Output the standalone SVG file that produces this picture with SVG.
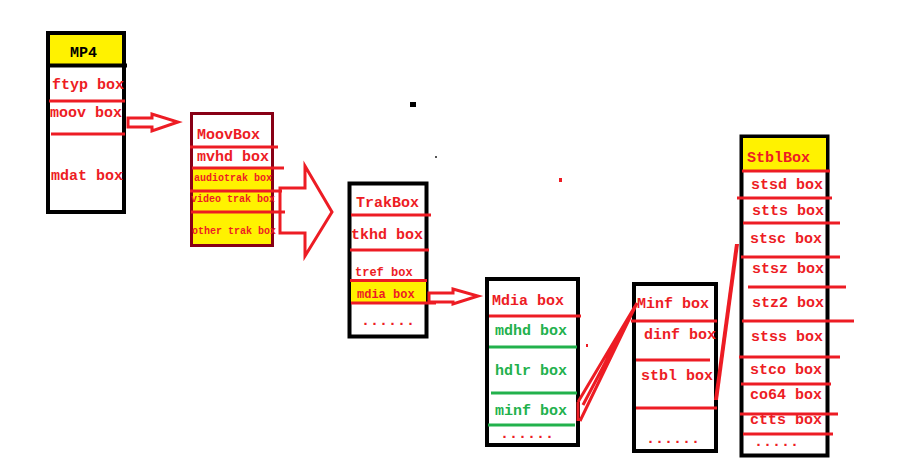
<svg xmlns="http://www.w3.org/2000/svg" width="919" height="468" viewBox="0 0 919 468">
<style>
.t{font-family:"Liberation Mono","DejaVu Sans Mono",monospace;font-weight:bold;font-size:15px;fill:#ED1C24}
.s{font-size:10px}
.m{font-size:12px}
.g{fill:#22B14C}
.k{fill:#000}
.box{fill:#fff;stroke:#000;stroke-width:4}
.r{stroke:#ED1C24;stroke-width:3;fill:none}
.gl{stroke:#22B14C;stroke-width:3;fill:none}
.arr{fill:#fff;stroke:#ED1C24;stroke-width:3;stroke-linejoin:miter}
</style>
<rect width="919" height="468" fill="#fff"/>
<g id="mp4">
<rect class="box" x="48" y="33" width="76" height="179"/>
<rect x="50" y="35" width="72" height="29" fill="#FFF200"/>
<line x1="46" y1="65.5" x2="127" y2="65.5" stroke="#000" stroke-width="4"/>
<text class="t k" x="70" y="57" font-size="14">MP4</text>
<text class="t" x="52" y="89">ftyp box</text>
<line class="r" x1="49" y1="101" x2="125" y2="101"/>
<text class="t" x="50" y="117">moov box</text>
<line class="r" x1="51" y1="134" x2="125" y2="134"/>
<text class="t" x="51" y="180">mdat box</text>
</g>
<g id="moovbox">
<rect x="191.5" y="113.5" width="81" height="132" fill="#fff" stroke="#880015" stroke-width="3"/>
<rect x="193" y="169" width="78" height="75" fill="#FFF200"/>
<text class="t" x="197" y="139">MoovBox</text>
<line class="r" x1="190" y1="147" x2="278" y2="147"/>
<text class="t" x="197" y="161">mvhd box</text>
<line class="r" x1="192" y1="168" x2="284" y2="168"/>
<text class="t s" x="194" y="181">audiotrak box</text>
<line class="r" x1="190" y1="191" x2="282" y2="191"/>
<text class="t s" x="191" y="202">video trak box</text>
<line class="r" x1="191" y1="212" x2="285" y2="212"/>
<text class="t s" x="192" y="234">other trak box</text>
</g>
<g id="trakbox">
<rect class="box" x="349.5" y="183.5" width="77" height="153" stroke-width="3"/>
<rect x="351" y="282" width="75" height="20" fill="#FFF200"/>
<text class="t" x="356" y="207">TrakBox</text>
<line class="r" x1="351" y1="215" x2="431" y2="215"/>
<text class="t" x="351" y="239">tkhd box</text>
<line class="r" x1="350" y1="250" x2="429" y2="250"/>
<text class="t m" x="355" y="276">tref box</text>
<line class="r" x1="350" y1="280.5" x2="427" y2="280.5"/>
<text class="t m" x="357" y="298">mdia box</text>
<line class="r" x1="351" y1="303" x2="436" y2="303"/>
<text class="t" x="361" y="325">......</text>
</g>
<g id="mdiabox">
<rect class="box" x="487" y="279" width="91" height="166" stroke-width="3"/>
<text class="t" x="492" y="305">Mdia box</text>
<line class="r" x1="489" y1="316" x2="581" y2="316"/>
<text class="t g" x="495" y="335">mdhd box</text>
<line class="gl" x1="489" y1="347" x2="577" y2="347"/>
<text class="t g" x="495" y="375">hdlr box</text>
<line class="gl" x1="491" y1="393" x2="577" y2="393"/>
<text class="t g" x="495" y="415">minf box</text>
<line class="gl" x1="488" y1="425" x2="575" y2="425"/>
<text class="t" x="500" y="438">......</text>
</g>
<g id="minfbox">
<rect class="box" x="634" y="284" width="82" height="167" stroke-width="3"/>
<text class="t" x="637" y="308">Minf box</text>
<line class="r" x1="631" y1="321" x2="717" y2="321"/>
<text class="t" x="644" y="339">dinf box</text>
<line class="r" x1="636" y1="360" x2="710" y2="360"/>
<text class="t" x="641" y="380">stbl box</text>
<line class="r" x1="636" y1="408" x2="717" y2="408"/>
<text class="t" x="646" y="443">......</text>
</g>
<g id="stblbox">
<rect class="box" x="741.5" y="136.5" width="86" height="319" stroke-width="3"/>
<rect x="743" y="138" width="83" height="33" fill="#FFF200"/>
<text class="t" x="747" y="162">StblBox</text>
<line class="r" x1="742" y1="171" x2="830" y2="171"/>
<text class="t" x="751" y="189">stsd box</text>
<line class="r" x1="737" y1="198" x2="832" y2="198"/>
<text class="t" x="752" y="215">stts box</text>
<line class="r" x1="743" y1="223" x2="840" y2="223"/>
<text class="t" x="750" y="243">stsc box</text>
<line class="r" x1="741" y1="257" x2="840" y2="257"/>
<text class="t" x="752" y="273">stsz box</text>
<line class="r" x1="748" y1="287" x2="846" y2="287"/>
<text class="t" x="752" y="307">stz2 box</text>
<line class="r" x1="742" y1="321" x2="854" y2="321"/>
<text class="t" x="751" y="341">stss box</text>
<line class="r" x1="739" y1="357" x2="840" y2="357"/>
<text class="t" x="750" y="374">stco box</text>
<line class="r" x1="741" y1="384" x2="831" y2="384"/>
<text class="t" x="750" y="399">co64 box</text>
<line class="r" x1="740" y1="414" x2="838" y2="414"/>
<text class="t" x="750" y="424">ctts box</text>
<line class="r" x1="743" y1="434" x2="833" y2="434"/>
<text class="t" x="754" y="446">.....</text>
</g>
<g id="connectors">
<polygon class="arr" points="128,118 152,118 152,114 178,122 152,131 152,127 128,127"/>
<path class="r" d="M280,188 H305 V166 L332,212 L305,256 V233 H280 Z" fill="none"/>
<polygon class="arr" points="429,293 453,293 453,289 478,296 453,304 453,302 429,302"/>
<path class="r" d="M578,402 V421 M578,402 L637,303 M580,421 L637,303 M583,405 L633,310"/>
<polygon points="714,400 718,400 739,244 735,244" fill="#ED1C24"/>
</g>
<g id="specks">
<rect x="410" y="102" width="6" height="5" fill="#000"/>
<rect x="435" y="156" width="2" height="2" fill="#555"/>
<rect x="559" y="178" width="3" height="4" fill="#ED1C24"/>
<rect x="586" y="344" width="2" height="3" fill="#ED1C24"/>
</g>
</svg>
